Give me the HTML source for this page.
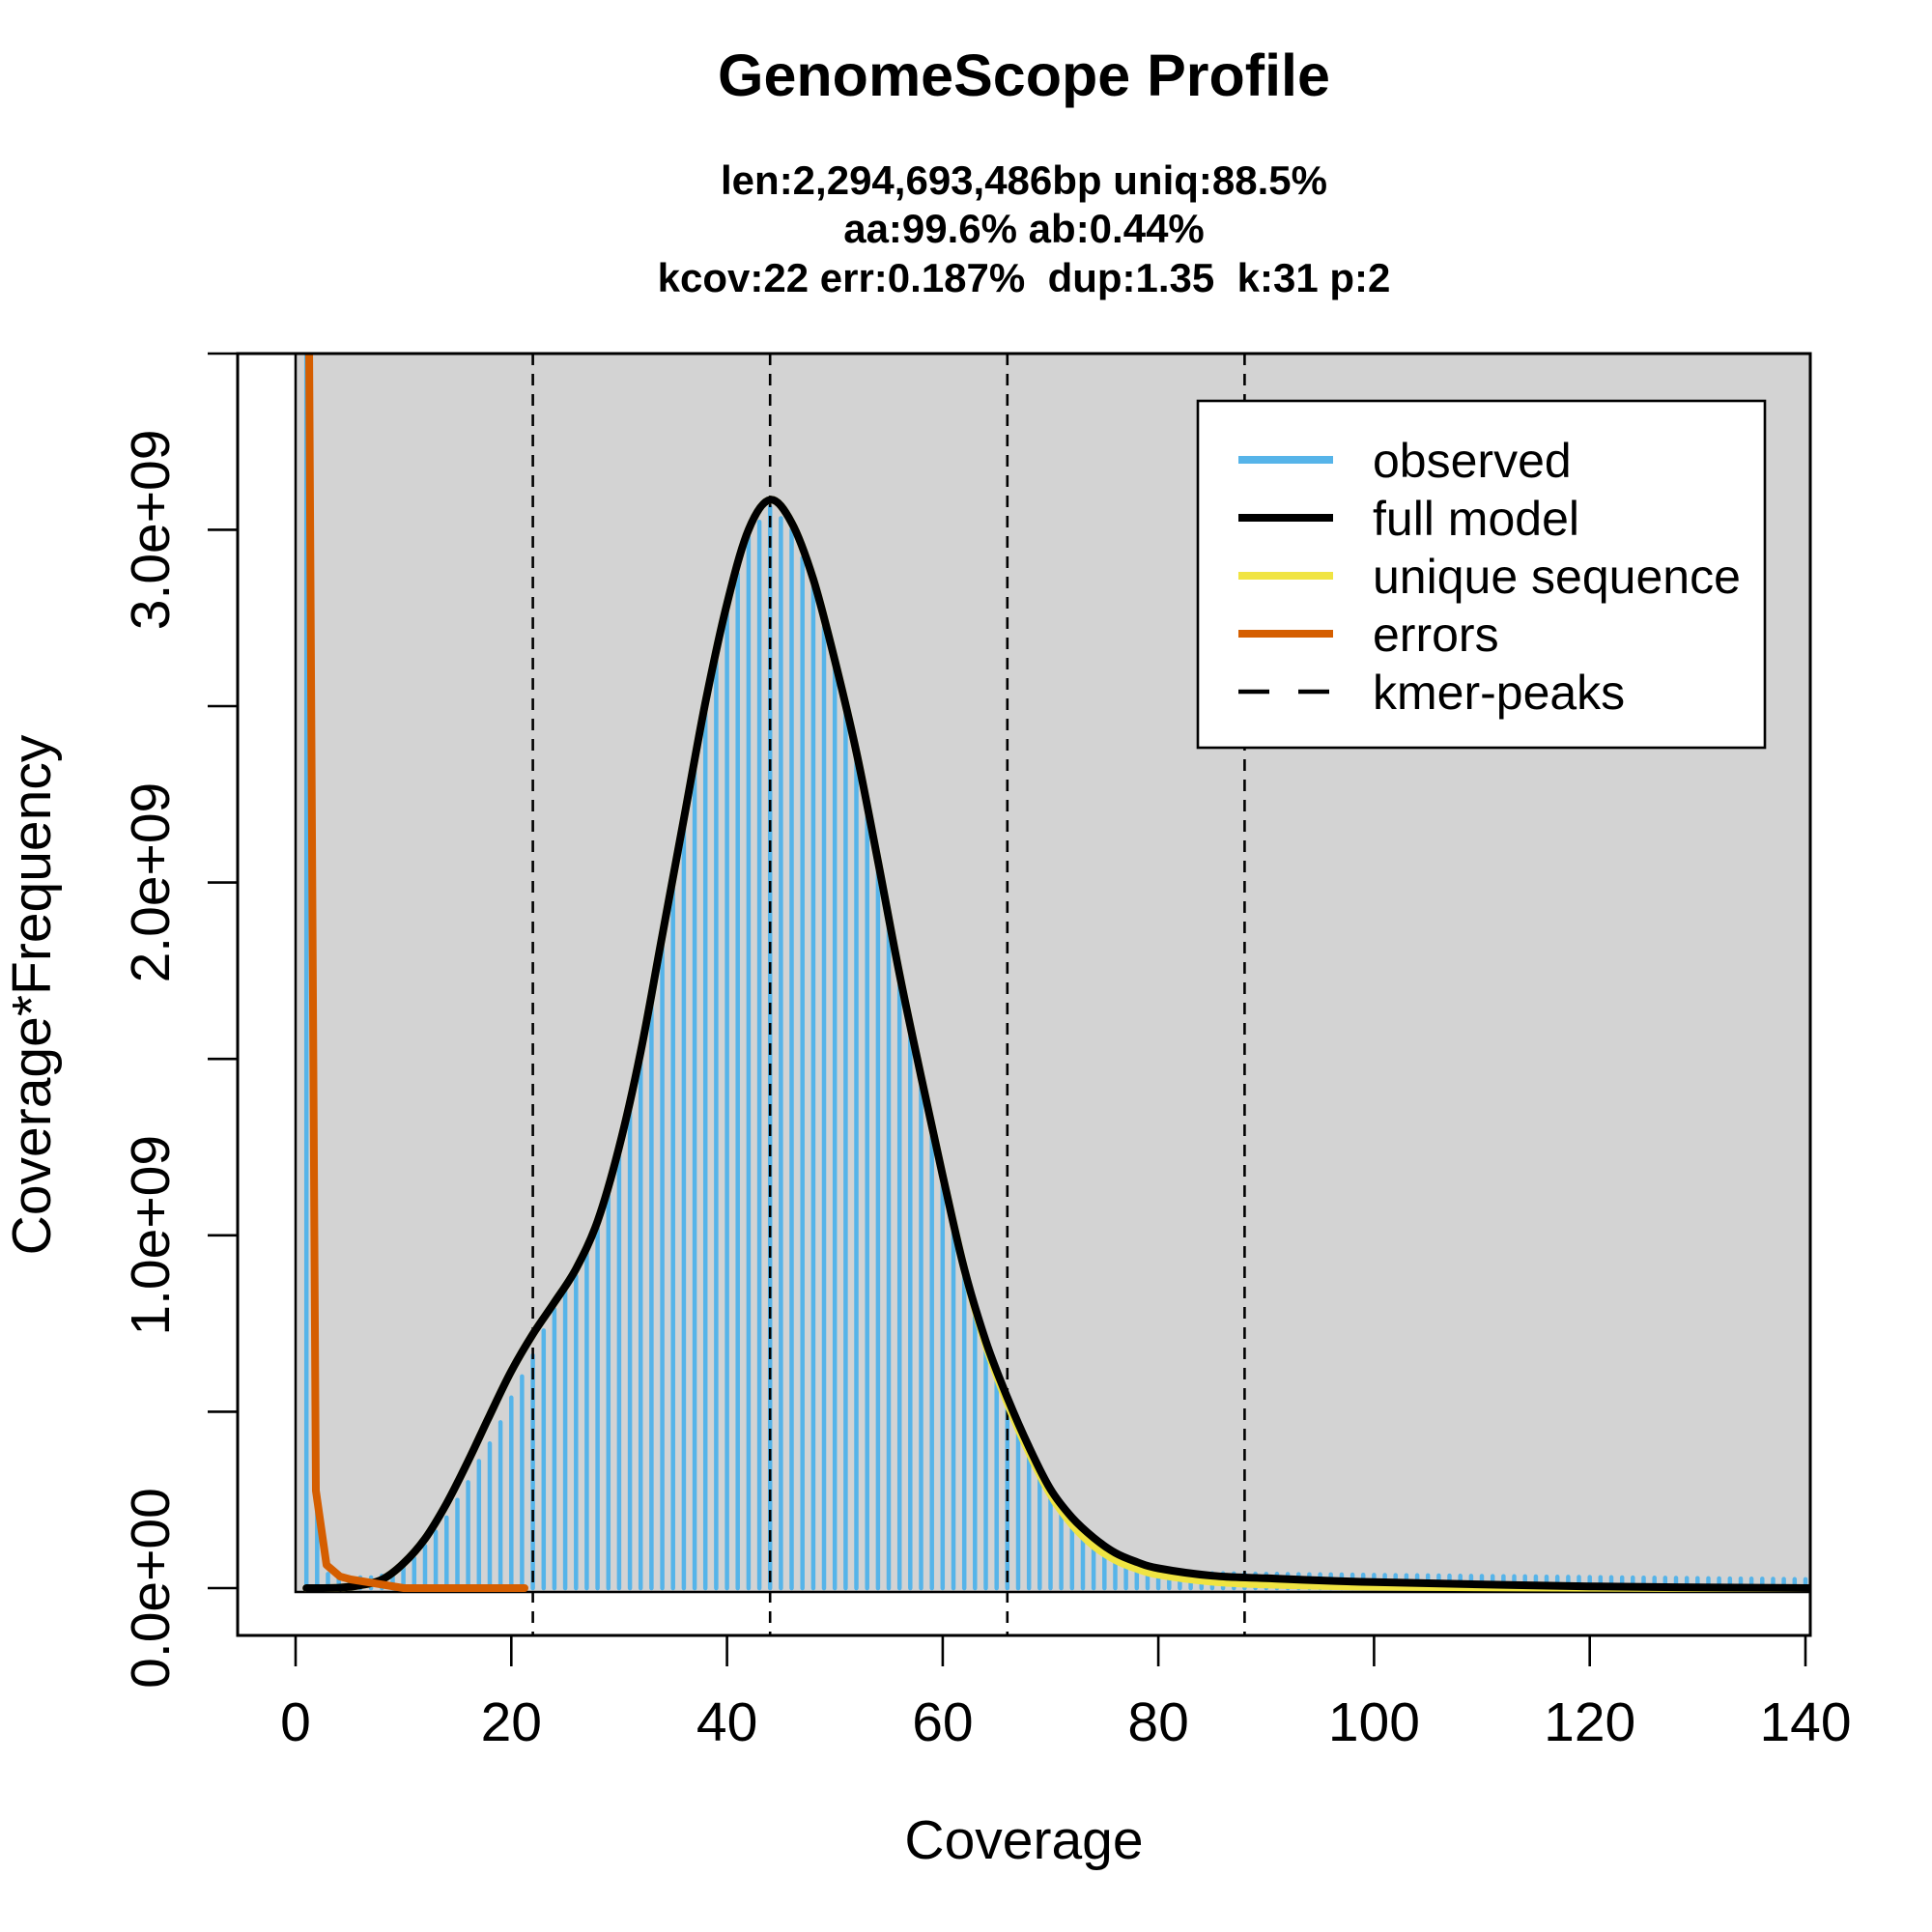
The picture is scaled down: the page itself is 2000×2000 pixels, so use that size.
<!DOCTYPE html>
<html><head><meta charset="utf-8"><style>html,body{margin:0;padding:0;background:#fff}svg{display:block}</style></head>
<body>
<svg id="s" width="2000" height="2000" viewBox="0 0 2000 2000" xmlns="http://www.w3.org/2000/svg" font-family="Liberation Sans, Arial, sans-serif">
<defs><clipPath id="c"><rect x="246" y="366" width="1628" height="1327"/></clipPath></defs>
<rect width="2000" height="2000" fill="#fff"/>
<g clip-path="url(#c)">
<rect x="306" y="360" width="1580" height="1288" fill="#d3d3d3" stroke="#000" stroke-width="2.5"/>
<g id="bars" stroke="#56B4E9" stroke-width="4.5" stroke-linecap="round"></g>
<g stroke="#000" stroke-width="2.6" stroke-dasharray="12 9">
<line x1="551.6" y1="366" x2="551.6" y2="1693"/>
<line x1="797.2" y1="366" x2="797.2" y2="1693"/>
<line x1="1042.8" y1="366" x2="1042.8" y2="1693"/>
<line x1="1288.4" y1="366" x2="1288.4" y2="1693"/>
</g>
<path id="yel" fill="none" stroke="#F0E442" stroke-width="8" stroke-linejoin="round" stroke-linecap="round"/>
<path id="blk" fill="none" stroke="#000" stroke-width="8" stroke-linejoin="round" stroke-linecap="round"/>
<polyline points="320,360 327,1543 338,1620 352,1632 363,1635 418,1644 543,1644" fill="none" stroke="#D55E00" stroke-width="8" stroke-linejoin="round" stroke-linecap="round"/>
</g>
<rect x="246" y="366" width="1628" height="1327" fill="none" stroke="#000" stroke-width="3"/>
<g stroke="#000" stroke-width="2.6">
<line x1="215" y1="1644" x2="246" y2="1644"/><line x1="215" y1="1461.4" x2="246" y2="1461.4"/>
<line x1="215" y1="1278.8" x2="246" y2="1278.8"/><line x1="215" y1="1096.2" x2="246" y2="1096.2"/>
<line x1="215" y1="913.6" x2="246" y2="913.6"/><line x1="215" y1="731" x2="246" y2="731"/>
<line x1="215" y1="548.4" x2="246" y2="548.4"/><line x1="215" y1="366" x2="246" y2="366"/>
<line x1="306" y1="1693" x2="306" y2="1725"/><line x1="529.3" y1="1693" x2="529.3" y2="1725"/>
<line x1="752.6" y1="1693" x2="752.6" y2="1725"/><line x1="975.9" y1="1693" x2="975.9" y2="1725"/>
<line x1="1199.1" y1="1693" x2="1199.1" y2="1725"/><line x1="1422.4" y1="1693" x2="1422.4" y2="1725"/>
<line x1="1645.7" y1="1693" x2="1645.7" y2="1725"/><line x1="1869" y1="1693" x2="1869" y2="1725"/>
</g>
<g font-size="57" text-anchor="middle">
<text x="306" y="1802">0</text><text x="529.3" y="1802">20</text><text x="752.6" y="1802">40</text>
<text x="975.9" y="1802">60</text><text x="1199.1" y="1802">80</text><text x="1422.4" y="1802">100</text>
<text x="1645.7" y="1802">120</text><text x="1869" y="1802">140</text>
<text transform="translate(175,1644) rotate(-90)">0.0e+00</text>
<text transform="translate(175,1278.8) rotate(-90)">1.0e+09</text>
<text transform="translate(175,913.6) rotate(-90)">2.0e+09</text>
<text transform="translate(175,548.4) rotate(-90)">3.0e+09</text>
<text x="1060" y="1924">Coverage</text>
<text transform="translate(52,1030) rotate(-90)">Coverage*Frequency</text>
</g>
<g text-anchor="middle" font-weight="bold" style="white-space:pre">
<text x="1060" y="99" font-size="61">GenomeScope Profile</text>
<text x="1060" y="201" font-size="42">len:2,294,693,486bp uniq:88.5%</text>
<text x="1060" y="251" font-size="42">aa:99.6% ab:0.44%</text>
<text x="1060" y="302" font-size="42" xml:space="preserve">kcov:22 err:0.187%  dup:1.35  k:31 p:2</text>
</g>
<rect x="1240" y="415" width="587" height="359" fill="#fff" stroke="#000" stroke-width="2.6"/>
<g stroke-width="8">
<line x1="1282" y1="476" x2="1380" y2="476" stroke="#56B4E9"/>
<line x1="1282" y1="536" x2="1380" y2="536" stroke="#000"/>
<line x1="1282" y1="596" x2="1380" y2="596" stroke="#F0E442"/>
<line x1="1282" y1="656" x2="1380" y2="656" stroke="#D55E00"/>
<line x1="1282" y1="716" x2="1380" y2="716" stroke="#000" stroke-width="4.5" stroke-dasharray="32 30"/>
</g>
<g font-size="50">
<text x="1421" y="494">observed</text>
<text x="1421" y="554">full model</text>
<text x="1421" y="614">unique sequence</text>
<text x="1421" y="674">errors</text>
<text x="1421" y="734">kmer-peaks</text>
</g>
</svg>
<script>
(function(){
var X=function(v){return 306+v*11.164;}, Y=function(v){return 1644-v*365.2;};
var M=[[1,0],[4,0.001],[6,0.008],[8,0.024],[10,0.07],[12,0.14],[14,0.24],[16,0.36],[18,0.49],[20,0.615],[22,0.72],[24,0.81],[26,0.905],[28,1.04],[30,1.25],[32,1.52],[34,1.85],[36,2.18],[38,2.51],[40,2.79],[42,3.0],[44,3.085],[46,3.02],[48,2.86],[50,2.63],[52,2.37],[54,2.06],[56,1.74],[58,1.45],[60,1.17],[62,0.905],[64,0.70],[66,0.54],[68,0.40],[70,0.28],[72,0.20],[74,0.143],[76,0.10],[78,0.074],[80,0.056],[85,0.035],[90,0.028],[100,0.017],[120,0.005],[141,0]];
var T={64:0.69,66:0.525,68:0.385,70:0.265,72:0.18,74:0.12,76:0.08,78:0.055,80:0.038,85:0.018,90:0.01,100:0.004,120:0.001,141:0};
var U=M.map(function(p){return [p[0], T[p[0]]!==undefined?T[p[0]]:p[1]];});
function path(P){var pts=P.map(function(p){return [X(p[0]),Y(p[1])];});
 var d="M"+pts[0][0].toFixed(1)+","+pts[0][1].toFixed(1);
 for(var i=0;i<pts.length-1;i++){var p0=pts[i-1]||pts[i],p1=pts[i],p2=pts[i+1],p3=pts[i+2]||p2;
  var c1=[p1[0]+(p2[0]-p0[0])/6,p1[1]+(p2[1]-p0[1])/6],c2=[p2[0]-(p3[0]-p1[0])/6,p2[1]-(p3[1]-p1[1])/6];
  d+="C"+c1[0].toFixed(1)+","+c1[1].toFixed(1)+" "+c2[0].toFixed(1)+","+c2[1].toFixed(1)+" "+p2[0].toFixed(1)+","+p2[1].toFixed(1);}
 return d;}
document.getElementById("blk").setAttribute("d",path(M));
document.getElementById("yel").setAttribute("d",path(U));
function interp(x){for(var i=0;i<M.length-1;i++){if(x>=M[i][0]&&x<=M[i+1][0]){var f=(x-M[i][0])/(M[i+1][0]-M[i][0]);return M[i][1]+f*(M[i+1][1]-M[i][1]);}}return 0;}
var low={1:5,2:0.3,3:0.04,4:0.03,5:0.03,6:0.03,7:0.03,8:0.035,9:0.045,10:0.065,11:0.085,12:0.12,13:0.16,14:0.20,15:0.25,16:0.30,17:0.36,18:0.41,19:0.47,20:0.54,21:0.60,22:0.66,23:0.73,24:0.79,25:0.85};
var g=document.getElementById("bars"),s="";
for(var x=1;x<=140;x++){var v;
 if(low[x]!==undefined)v=low[x];
 else if(x<=84)v=interp(x)-0.02;
 else v=0.042-(x-85)*0.017/55;
 if(v<0.005)v=0.005;
 s+='<line x1="'+X(x).toFixed(1)+'" y1="1644" x2="'+X(x).toFixed(1)+'" y2="'+Y(v).toFixed(1)+'"/>';}
g.innerHTML=s;
})();
</script>
</body></html>
